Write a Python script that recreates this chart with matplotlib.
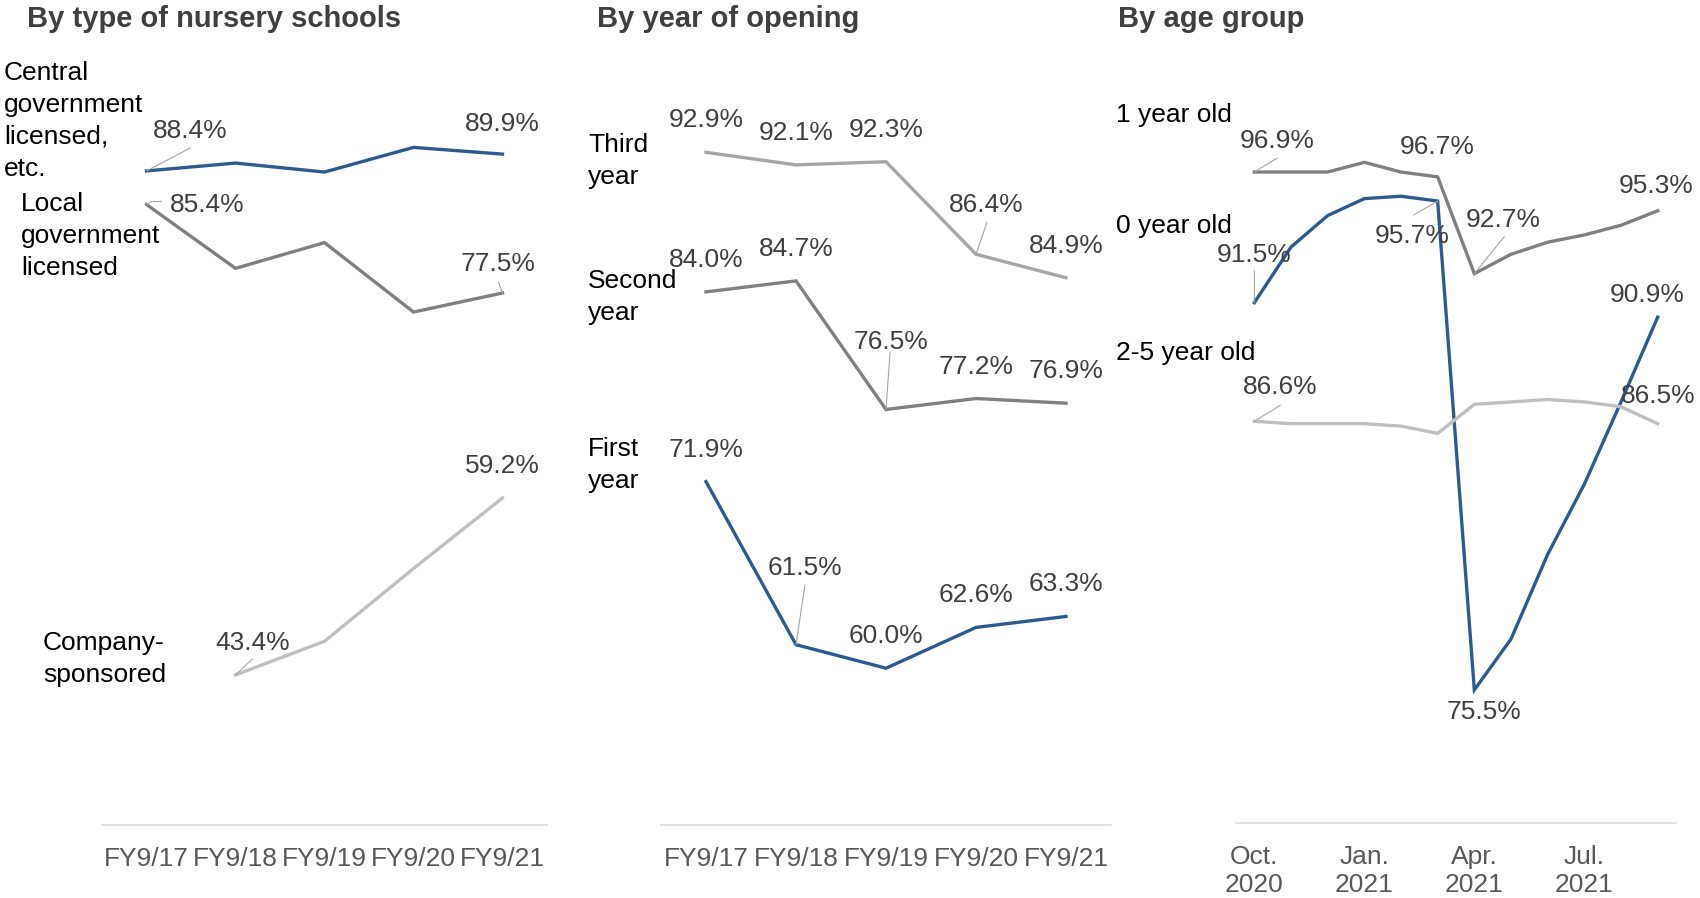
import numpy as np
import matplotlib
matplotlib.use("Agg")
import matplotlib.pyplot as plt
from matplotlib.transforms import offset_copy

plt.rcParams['font.family'] = ['Liberation Sans', 'DejaVu Sans']

# ---- data -------------------------------------------------------------
fy_labels = ["FY9/17", "FY9/18", "FY9/19", "FY9/20", "FY9/21"]

central_gov = [88.4, 89.1, 88.3, 90.5, 89.9]
local_gov = [85.4, 79.7, 82.0, 75.8, 77.5]
company = [np.nan, 43.4, 46.4, 52.9, 59.2]

third_year = [92.9, 92.1, 92.3, 86.4, 84.9]
second_year = [84.0, 84.7, 76.5, 77.2, 76.9]
first_year = [71.9, 61.5, 60.0, 62.6, 63.3]

month_labels = ["Oct.\n2020", "Nov.\n2020", "Dec.\n2020", "Jan.\n2021",
                "Feb.\n2021", "Mar.\n2021", "Apr.\n2021", "May\n2021",
                "Jun.\n2021", "Jul.\n2021", "Aug.\n2021", "Sep.\n2021"]
age_1 = [96.9, 96.9, 96.9, 97.3, 96.9, 96.7, 92.7, 93.5, 94.0, 94.3, 94.7, 95.3]
age_0 = [91.5, 93.8, 95.1, 95.8, 95.9, 95.7, 75.5, 77.6, 81.1, 84.0, 87.4, 90.9]
age_2_5 = [86.6, 86.5, 86.5, 86.5, 86.4, 86.1, 87.3, 87.4, 87.5, 87.4, 87.2, 86.5]

# ---- styling ----------------------------------------------------------
W, H = 1700, 898
BLUE = "#2E5B8E"
GRAY = "#808080"
MID = "#A6A6A6"
LIGHT = "#BFBFBF"
LEADER = "#A6A6A6"
LABEL_C = "#404040"
TICK_C = "#595959"
FS = 19
LW = 2.4
NAME_STEP = 31.7   # pixel distance between baselines of stacked name lines

fig = plt.figure(figsize=(W / 100, H / 100), dpi=100)
fig.patch.set_facecolor("white")


def px_axes(left, right, top, bottom):
    return fig.add_axes([left / W, 1 - bottom / H, (right - left) / W, (bottom - top) / H])


def style_axes(ax, n, ylim, ticks, ticklabels, linespacing=1.2):
    ax.set_xlim(-0.5, n - 0.5)
    ax.set_ylim(*ylim)
    for side in ("left", "right", "top"):
        ax.spines[side].set_visible(False)
    ax.spines["bottom"].set_color("#D9D9D9")
    ax.spines["bottom"].set_linewidth(1.1)
    ax.set_yticks([])
    ax.set_xticks(ticks, ticklabels)
    ax.tick_params(axis="x", length=0, pad=15.5, labelsize=FS, labelcolor=TICK_C)
    for t in ax.get_xticklabels():
        t.set_linespacing(linespacing)
    ax.patch.set_alpha(0)


def value_label(ax, series, i, dx, dy, leader=None):
    v = series[i]
    ax.annotate(f"{v:.1f}%", xy=(i, v), xytext=(dx, dy), textcoords="offset pixels",
                ha="center", va="baseline", fontsize=FS, color=LABEL_C,
                annotation_clip=False)
    if leader:
        for (x0, y0), (x1, y1) in zip(leader[:-1], leader[1:]):
            t0 = offset_copy(ax.transData, fig=fig, x=x0, y=y0, units="dots")
            t1 = offset_copy(ax.transData, fig=fig, x=x1, y=y1, units="dots")
            ax.annotate("", xy=(i, v), xycoords=t1, xytext=(i, v), textcoords=t0,
                        arrowprops=dict(arrowstyle="-", color=LEADER, lw=0.8,
                                        shrinkA=0, shrinkB=0),
                        annotation_clip=False)


def name_label(x, y_first, text):
    # y_first is the baseline of the first line; the text is anchored on its last line
    n = text.count("\n")
    y_last = y_first + n * NAME_STEP
    fig.text(x / W, 1 - y_last / H, text, ha="left", va="baseline", fontsize=FS,
             color="black", linespacing=1.43)


def title(x, text):
    fig.text(x / W, 1 - 27 / H, text, ha="left", va="baseline", fontsize=21,
             fontweight="bold", color="#404040")


# ---- panel 1: by type of nursery schools ------------------------------
ax1 = px_axes(102, 547, 41, 825)
x5 = np.arange(len(fy_labels))
ax1.plot(x5, central_gov, color=BLUE, lw=LW, solid_joinstyle="miter")
ax1.plot(x5, local_gov, color=GRAY, lw=LW, solid_joinstyle="miter")
ax1.plot(x5, company, color=LIGHT, lw=LW, solid_joinstyle="miter")
style_axes(ax1, 5, (30, 100), x5, fy_labels)

value_label(ax1, central_gov, 0, 44, 33, leader=[(44, 23), (0, 0)])
value_label(ax1, central_gov, 4, 0, 23)
value_label(ax1, local_gov, 0, 61, -7, leader=[(15, 3), (5, 3), (0, 0)])
value_label(ax1, local_gov, 4, -4, 22, leader=[(-4, 11), (0, 0)])
value_label(ax1, company, 1, 17, 25, leader=[(17, 16), (0, 0)])
value_label(ax1, company, 4, 0, 25)

title(27, "By type of nursery schools")
name_label(4, 81, "Central\ngovernment\nlicensed,\netc.")
name_label(21, 212, "Local\ngovernment\nlicensed")
name_label(43, 650, "Company-\nsponsored")

# ---- panel 2: by year of opening ---------------------------------------
ax2 = px_axes(661, 1111, 41, 825)
ax2.plot(x5, third_year, color=MID, lw=LW, solid_joinstyle="miter")
ax2.plot(x5, second_year, color=GRAY, lw=LW, solid_joinstyle="miter")
ax2.plot(x5, first_year, color=BLUE, lw=LW, solid_joinstyle="miter")
style_axes(ax2, 5, (50, 100), x5, fy_labels)

for i in range(5):
    if i == 3:
        value_label(ax2, third_year, i, 10, 42, leader=[(11, 32), (0, 0)])
    else:
        value_label(ax2, third_year, i, 0, 25)
for i in range(5):
    if i == 2:
        value_label(ax2, second_year, i, 5, 60, leader=[(4, 57), (0, 0)])
    else:
        value_label(ax2, second_year, i, 0, 25)
for i in range(5):
    if i == 1:
        value_label(ax2, first_year, i, 9, 70, leader=[(9, 60), (0, 0)])
    else:
        value_label(ax2, first_year, i, 0, 25)

title(597, "By year of opening")
name_label(588, 152, "Third\nyear")
name_label(588, 288, "Second\nyear")
name_label(588, 456, "First\nyear")

# ---- panel 3: by age group ----------------------------------------------
ax3 = px_axes(1236, 1676, 97, 823)
x12 = np.arange(len(month_labels))
ax3.plot(x12, age_1, color=GRAY, lw=LW, solid_joinstyle="miter")
ax3.plot(x12, age_0, color=BLUE, lw=LW, solid_joinstyle="miter")
ax3.plot(x12, age_2_5, color=LIGHT, lw=LW, solid_joinstyle="miter")
tick_idx = list(range(0, 12, 3))
style_axes(ax3, 12, (70, 100), tick_idx, [month_labels[i] for i in tick_idx],
           linespacing=1.25)

value_label(ax3, age_1, 0, 23, 24, leader=[(23, 14), (0, 0)])
value_label(ax3, age_1, 5, 0, 23)
value_label(ax3, age_1, 6, 29, 47, leader=[(30, 37), (0, 0)])
value_label(ax3, age_1, 11, -2, 18)
value_label(ax3, age_0, 0, 0, 41, leader=[(0, 32), (0, 0)])
value_label(ax3, age_0, 5, -25, -42, leader=[(-24, -14), (0, 0)])
value_label(ax3, age_0, 6, 10, -29)
value_label(ax3, age_0, 11, -10, 15)
value_label(ax3, age_2_5, 0, 26, 27, leader=[(26, 16), (0, 0)])
value_label(ax3, age_2_5, 11, 1, 21)

title(1118, "By age group")
name_label(1116, 122, "1 year old")
name_label(1116, 233, "0 year old")
name_label(1116, 360, "2-5 year old")

fig.savefig("out.png", dpi=100, facecolor="white")
